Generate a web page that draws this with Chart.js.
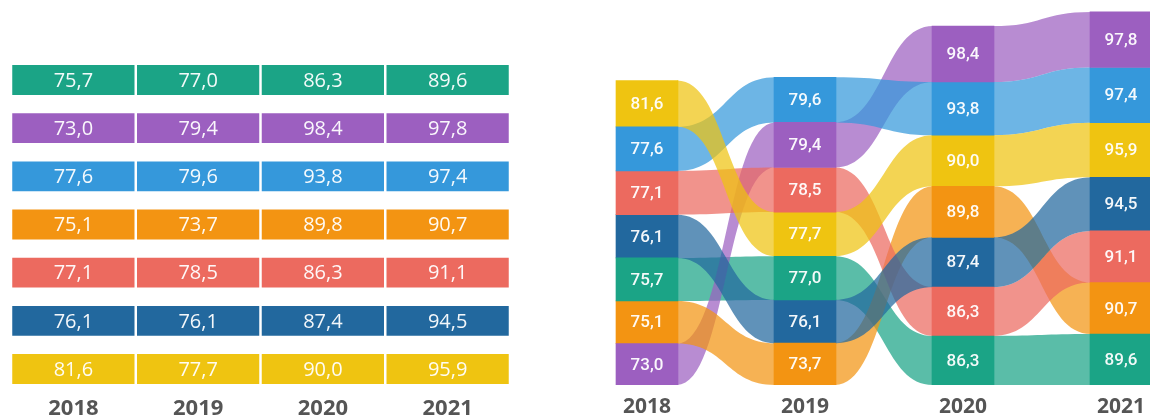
<!DOCTYPE html>
<html>
<head>
<meta charset="utf-8">
<script src="https://cdn.jsdelivr.net/npm/chart.js@4/dist/chart.umd.min.js"></script>
<style>
  body { margin: 0; background: #fff; }
  #left { position: absolute; left: 0; top: 0; width: 520px; height: 420px; }
  #right { position: absolute; left: 600px; top: 0; width: 550px; height: 420px; }
</style>
</head>
<body>
<div id="left"><canvas id="tableChart"></canvas></div>
<div id="right"><canvas id="rankChart"></canvas></div>
<script>
// Years and values per colour (same row order as the left table)
const years = ['2018', '2019', '2020', '2021'];
const green = [75.7, 77.0, 86.3, 89.6];
const purple = [73.0, 79.4, 98.4, 97.8];
const blue = [77.6, 79.6, 93.8, 97.4];
const orange = [75.1, 73.7, 89.8, 90.7];
const red = [77.1, 78.5, 86.3, 91.1];
const darkBlue = [76.1, 76.1, 87.4, 94.5];
const yellow = [81.6, 77.7, 90.0, 95.9];

const series = [green, purple, blue, orange, red, darkBlue, yellow];
const colors = ['#1ba486', '#9c5fc0', '#3598db', '#f39412', '#ec6a5f', '#22689e', '#efc411'];

function fade(hex, a) {
    const n = parseInt(hex.slice(1), 16);
    return `rgba(${n >> 16}, ${(n >> 8) & 255}, ${n & 255}, ${a})`;
}

// Decimal comma like the original
const fmt = v => v.toFixed(1).replace('.', ',');

// Plugin: value text in the middle of every bar
function valueLabels(font) {
    return {
        id: 'valueLabels',
        afterDatasetsDraw(chart) {
            const ctx = chart.ctx;
            ctx.save();
            ctx.font = font;
            ctx.fillStyle = 'rgba(255,255,255,0.95)';
            ctx.textAlign = 'center';
            ctx.textBaseline = 'middle';
            chart.data.datasets.forEach((ds, i) => {
                chart.getDatasetMeta(i).data.forEach((el, j) => {
                    const c = el.getCenterPoint();
                    ctx.fillText(fmt(series[i][j]), c.x, c.y + 1);
                });
            });
            ctx.restore();
        }
    };
}

// keep the year axis at a fixed height so the plot ends at y=385
const fixAxisHeight = scale => { scale.height = 35; };

// ---------- Left: table of coloured cells ----------
new Chart(document.getElementById('tableChart'), {
    type: 'bar',
    data: {
        labels: years,
        datasets: series.map((s, i) => ({
            data: years.map(() => [i - 0.31, i + 0.31]),
            backgroundColor: colors[i],
            borderWidth: 0,
            grouped: false,
            barPercentage: 0.98,
            categoryPercentage: 1
        }))
    },
    options: {
        responsive: true,
        maintainAspectRatio: false,
        animation: false,
        layout: { padding: { left: 11, right: 10, top: 0, bottom: 0 } },
        plugins: { legend: { display: false }, tooltip: { enabled: false } },
        scales: {
            x: {
                grid: { display: false },
                border: { display: false },
                afterFit: fixAxisHeight,
                ticks: { color: '#555', padding: 3, maxRotation: 0, font: { family: 'Open Sans', size: 22, weight: 'bold' } }
            },
            y: { display: false, reverse: true, min: -1.661, max: 6.332 }
        }
    },
    plugins: [valueLabels('400 20px "Open Sans"')]
});

// ---------- Right: ranked nodes with ribbons ----------
// order per year, top to bottom; ties keep the previous year's order
const ranks = [];
years.forEach((y, j) => {
    const idx = series.map((s, i) => i);
    idx.sort((a, b) => {
        const d = series[b][j] - series[a][j];
        if (d !== 0) return d;
        return j > 0 ? ranks[j - 1].indexOf(a) - ranks[j - 1].indexOf(b) : a - b;
    });
    ranks.push(idx);
});

// floating ranges, stacked up from zero by rank
const ranges = series.map(() => []);
ranks.forEach((order, j) => {
    let base = 0;
    order.slice().reverse().forEach(i => {
        ranges[i][j] = [base, base + series[i][j]];
        base += series[i][j];
    });
});

const ribbons = {
    id: 'ribbons',
    beforeDatasetsDraw(chart) {
        const ctx = chart.ctx;
        ctx.save();
        chart.data.datasets.forEach((ds, i) => {
            const pts = chart.getDatasetMeta(i).data;
            for (let j = 0; j < pts.length - 1; j++) {
                const a = pts[j].getProps(['x', 'y', 'base', 'width'], true);
                const b = pts[j + 1].getProps(['x', 'y', 'base', 'width'], true);
                const x0 = a.x + a.width / 2, x1 = b.x - b.width / 2;
                const t0 = Math.min(a.y, a.base), b0 = Math.max(a.y, a.base);
                const t1 = Math.min(b.y, b.base), b1 = Math.max(b.y, b.base);
                const m = (x0 + x1) / 2;
                ctx.beginPath();
                ctx.moveTo(x0 - 1, t0);
                ctx.bezierCurveTo(m, t0, m, t1, x1 + 1, t1);
                ctx.lineTo(x1 + 1, b1);
                ctx.bezierCurveTo(m, b1, m, b0, x0 - 1, b0);
                ctx.closePath();
                ctx.fillStyle = fade(colors[i], 0.72);
                ctx.fill();
            }
        });
        ctx.restore();
    }
};

new Chart(document.getElementById('rankChart'), {
    type: 'bar',
    data: {
        datasets: series.map((s, i) => ({
            data: years.map((y, j) => ({ x: +y, y: ranges[i][j] })),
            backgroundColor: colors[i],
            borderWidth: 0,
            grouped: false,
            barThickness: 62
        }))
    },
    options: {
        responsive: true,
        maintainAspectRatio: false,
        animation: false,
        layout: { padding: { left: 0, right: 0, top: 0, bottom: 0 } },
        plugins: { legend: { display: false }, tooltip: { enabled: false } },
        scales: {
            x: {
                type: 'linear',
                offset: false,
                min: 2017.7025,
                max: 2021.1835,
                grid: { display: false },
                border: { display: false },
                afterFit: fixAxisHeight,
                afterBuildTicks: scale => { scale.ticks = years.map(v => ({ value: +v })); },
                ticks: {
                    color: '#555',
                    padding: 1,
                    autoSkip: false,
                    maxRotation: 0,
                    callback: v => String(v),
                    font: { family: 'Open Sans', size: 21, weight: 'bold' }
                }
            },
            y: { display: false, min: 0, max: 678 }
        }
    },
    plugins: [ribbons, valueLabels('500 17px Roboto')]
});
</script>
</body>
</html>
